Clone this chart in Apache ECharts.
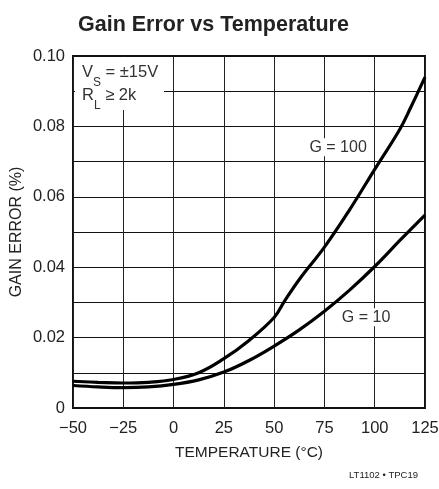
<!DOCTYPE html>
<html>
<head>
<meta charset="utf-8">
<script src="https://cdn.jsdelivr.net/npm/echarts@6/dist/echarts.min.js"></script>
<style>
html,body{margin:0;padding:0;background:#fff;}
#c{width:439px;height:489px;}
</style>
</head>
<body>
<div id="c"></div>
<script>
// ---- data ----
const temps = [-50, -37.5, -25, -12.5, 0, 12.5, 25, 37.5, 50, 55, 62.5, 75, 87.5, 100, 112.5, 118, 125];
const gain100 = [0.0076, 0.0073, 0.0071, 0.0073, 0.0081, 0.0100, 0.0140, 0.0192, 0.0257, 0.0302, 0.0365, 0.0457, 0.0563, 0.0678, 0.0792, 0.0855, 0.0940];
const temps10 = [-50, -37.5, -25, -12.5, 0, 12.5, 25, 37.5, 50, 62.5, 75, 87.5, 100, 112.5, 125];
const gain10 = [0.0064, 0.0060, 0.0058, 0.0060, 0.0067, 0.0080, 0.0102, 0.0135, 0.0176, 0.0222, 0.0275, 0.0335, 0.0402, 0.0476, 0.0548];
const xTickLabels = ['\u221250', '\u221225', '0', '25', '50', '75', '100', '125'];
const yTickLabels = ['0', '', '0.02', '', '0.04', '', '0.06', '', '0.08', '', '0.10'];
const seriesNames = ['G = 100', 'G = 10'];

const FONT = '"Liberation Sans Narrow", "Liberation Sans", Arial, sans-serif';
const chart = echarts.init(document.getElementById('c'), null, {renderer: 'canvas'});

const xMin = -50, xStep = 25;
const yStep = 0.01;

const option = {
  animation: false,
  backgroundColor: '#fff',
  title: {
    text: 'Gain Error vs Temperature',
    left: 73, top: 9,
    textStyle: {fontFamily: FONT, fontWeight: 'bold', fontSize: 21.5, color: '#222'}
  },
  grid: {
    left: 73, right: 14, top: 56, bottom: 81,
    outerBoundsMode: 'none', containLabel: false,
    show: true, borderColor: '#111', borderWidth: 2, backgroundColor: 'transparent'
  },
  xAxis: {
    type: 'value', min: -50, max: 125, interval: 25,
    name: 'TEMPERATURE (\u00B0C)', nameLocation: 'middle', nameGap: 37,
    nameTextStyle: {fontFamily: FONT, fontSize: 15.5, color: '#222'},
    axisLine: {show: false}, axisTick: {show: false},
    axisLabel: {
      fontFamily: FONT, fontSize: 16.5, color: '#222', margin: 12,
      formatter: v => xTickLabels[Math.round((v - xMin) / xStep)]
    },
    splitLine: {show: true, lineStyle: {color: '#222', width: 1}}
  },
  yAxis: {
    type: 'value', min: 0, max: 0.1, interval: 0.01,
    name: 'GAIN ERROR (%)', nameLocation: 'middle', nameGap: 48, nameMoveOverlap: false,
    nameTextStyle: {fontFamily: FONT, fontSize: 16, color: '#222'},
    axisLine: {show: false}, axisTick: {show: false},
    axisLabel: {
      fontFamily: FONT, fontSize: 16.5, color: '#222', margin: 8,
      formatter: v => yTickLabels[Math.round(v / yStep)]
    },
    splitLine: {show: true, lineStyle: {color: '#111', width: 1}}
  },
  series: [
    {
      name: seriesNames[0], type: 'line', smooth: 0.4, showSymbol: false,
      lineStyle: {color: '#000', width: 3.2},
      data: temps.map((t, i) => [t, gain100[i]]),
      z: 5,
      markPoint: {
        symbol: 'rect', symbolSize: 0, silent: true,
        data: [{coord: [81.8, 0.0741], value: seriesNames[0]}],
        label: {
          show: true, position: 'inside', formatter: seriesNames[0],
          fontFamily: FONT, fontSize: 16, color: '#333',
          backgroundColor: '#fff', padding: [1, 2]
        }
      }
    },
    {
      name: seriesNames[1], type: 'line', smooth: 0.4, showSymbol: false,
      lineStyle: {color: '#000', width: 3.2},
      data: temps10.map((t, i) => [t, gain10[i]]),
      z: 5,
      markPoint: {
        symbol: 'rect', symbolSize: 0, silent: true,
        data: [{coord: [95.7, 0.0258], value: seriesNames[1]}],
        label: {
          show: true, position: 'inside', formatter: seriesNames[1],
          fontFamily: FONT, fontSize: 16, color: '#333',
          backgroundColor: '#fff', padding: [1, 2]
        }
      }
    }
  ],
  graphic: [
    {
      type: 'rect', left: 75, top: 57, z: 10,
      shape: {width: 89, height: 53},
      style: {fill: '#fff'}
    },
    {
      type: 'text', left: 82, top: 64, z: 11,
      style: {
        text: '{m|V}{s|S}{m| = \u00B115V}\n{m|R}{s|L}{m| \u2265 2k}',
        fontFamily: FONT, fill: '#333',
        rich: {
          m: {fontFamily: FONT, fontSize: 16.5, lineHeight: 23, fill: '#333', verticalAlign: 'bottom'},
          s: {fontFamily: FONT, fontSize: 12, lineHeight: 23, fill: '#333', verticalAlign: 'bottom', padding: [0, 0, -8, 0]}
        }
      }
    },
    {
      type: 'text', right: 21, top: 470, z: 11,
      style: {text: 'LT1102 \u2022 TPC19', fontFamily: FONT, fontSize: 9.5, fill: '#222'}
    }
  ]
};
chart.setOption(option);
</script>
</body>
</html>
